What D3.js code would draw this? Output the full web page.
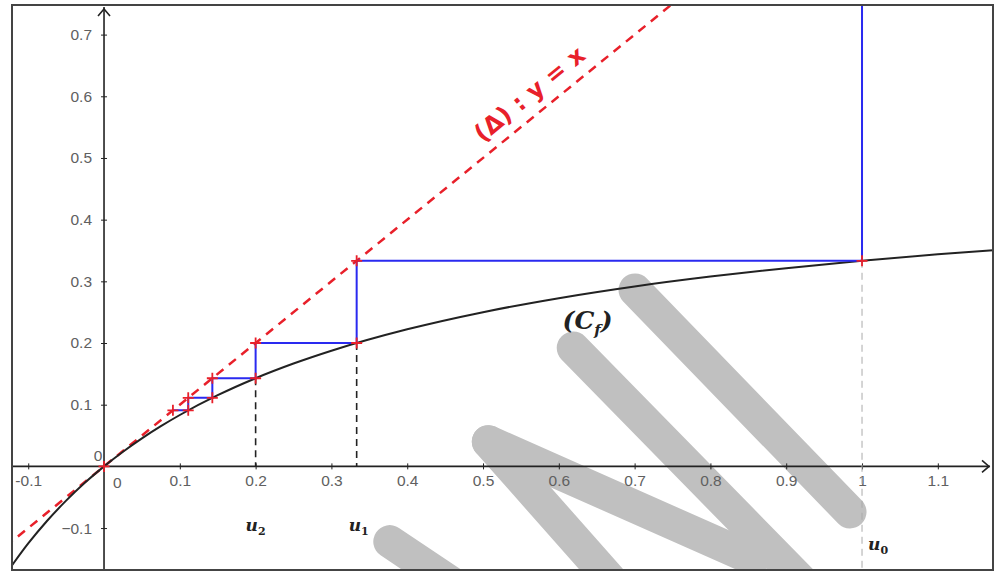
<!DOCTYPE html>
<html><head><meta charset="utf-8">
<script src="https://cdn.jsdelivr.net/npm/d3@7"></script>
<style>
html,body{margin:0;padding:0;background:#fff;}
svg{display:block;}
</style></head>
<body>
<svg id="chart" width="1000" height="572"></svg>
<script>
// ---- data ----
const xTicks = [-0.1, 0.1, 0.2, 0.3, 0.4, 0.5, 0.6, 0.7, 0.8, 0.9, 1, 1.1];
const yTicks = [-0.1, 0.1, 0.2, 0.3, 0.4, 0.5, 0.6, 0.7];
// sequence u_n
const seq = [1, 0.3333, 0.2, 0.1429, 0.1111, 0.0909];
// curve (C_f) points
const curveX = [-0.125, -0.1, -0.075, -0.05, -0.025, 0, 0.025, 0.05, 0.075, 0.1, 0.15, 0.2, 0.25, 0.3, 0.4, 0.5, 0.6, 0.7, 0.8, 0.9, 1.0, 1.1, 1.2];
const curveY = [-0.1667, -0.125, -0.0882, -0.0556, -0.0263, 0, 0.0238, 0.0455, 0.0652, 0.0833, 0.1154, 0.1429, 0.1667, 0.1875, 0.2222, 0.25, 0.2727, 0.2917, 0.3077, 0.3214, 0.3333, 0.3438, 0.3529];
const seqLabels = ["u0", "u1", "u2"];
// watermark strokes (data units)
const wmStrokes = [
  [[0.7005, 0.286], [0.9842, -0.074]],
  [[0.619, 0.192], [0.925, -0.192]],
  [[0.507, 0.040], [0.856, -0.150]],
  [[0.507, 0.040], [0.674, -0.192]],
  [[0.377, -0.122], [0.462, -0.192]]
];

// ---- layout ----
const svg = d3.select("#chart");
const L = 12, R = 993, T = 5, B = 570;
const x = d3.scaleLinear().domain([-0.1214, 1.1728]).range([L, R]);
const y = d3.scaleLinear().domain([0.748, -0.168]).range([T, B]);

const red = "#e8202a", blue = "#2a2af0", grey = "#606060";
const tickFont = "'Liberation Sans', Arial, sans-serif";
const tickSize = "15.5px";

svg.append("defs").append("clipPath").attr("id", "clip")
  .append("rect").attr("x", L).attr("y", T).attr("width", R - L).attr("height", B - T);

const g = svg.append("g").attr("clip-path", "url(#clip)");

// watermark
g.append("g").selectAll("line").data(wmStrokes).join("line")
  .attr("x1", d => x(d[0][0])).attr("y1", d => y(d[0][1]))
  .attr("x2", d => x(d[1][0])).attr("y2", d => y(d[1][1]))
  .attr("stroke", "#c0c0c0").attr("stroke-width", 33).attr("stroke-linecap", "round");

// axes
const xAxis = d3.axisBottom(x).tickValues(xTicks).tickSize(3)
  .tickFormat(d => String(d));
const gx = g.append("g").attr("transform", `translate(0,${y(0)})`).call(xAxis);
gx.select(".domain").remove();
gx.selectAll(".tick line").attr("stroke", "#222").attr("y1", -3).attr("y2", 3);
gx.selectAll(".tick text").attr("y", 9).attr("fill", grey)
  .style("font-family", tickFont).style("font-size", tickSize);

const yAxis = d3.axisLeft(y).tickValues(yTicks).tickSize(3)
  .tickFormat(d => d < 0 ? "\u2212" + String(-d) : String(d));
const gy = g.append("g").attr("transform", `translate(${x(0)},0)`).call(yAxis);
gy.select(".domain").remove();
gy.selectAll(".tick line").attr("stroke", "#222").attr("x1", -3).attr("x2", 3);
gy.selectAll(".tick text").attr("x", -12).attr("fill", grey)
  .style("font-family", tickFont).style("font-size", tickSize);

// axis lines with arrows
g.append("line").attr("x1", L).attr("x2", R - 3).attr("y1", y(0)).attr("y2", y(0))
  .attr("stroke", "#222").attr("stroke-width", 1.6);
g.append("path").attr("d", `M${R - 11},${y(0) - 6} L${R - 4},${y(0)} L${R - 11},${y(0) + 6}`)
  .attr("fill", "none").attr("stroke", "#222").attr("stroke-width", 1.6);
g.append("line").attr("x1", x(0)).attr("x2", x(0)).attr("y1", B).attr("y2", T + 2)
  .attr("stroke", "#222").attr("stroke-width", 1.6);
g.append("path").attr("d", `M${x(0) - 6},${T + 11} L${x(0)},${T + 4} L${x(0) + 6},${T + 11}`)
  .attr("fill", "none").attr("stroke", "#222").attr("stroke-width", 1.6);

// zero labels
const lblStyle = s => s.attr("fill", grey).style("font-family", tickFont).style("font-size", tickSize);
g.append("text").attr("x", x(0) + 9).attr("y", y(0) + 22).text("0").call(lblStyle);
g.append("text").attr("x", x(0) - 6).attr("y", y(0) - 5).attr("text-anchor", "middle").text("0").call(lblStyle);

// dashed verticals
g.append("line").attr("x1", x(seq[0])).attr("x2", x(seq[0])).attr("y1", y(seq[1])).attr("y2", B)
  .attr("stroke", "#aaa").attr("stroke-width", 1).attr("stroke-dasharray", "7,5");
[1, 2].forEach(i => {
  g.append("line").attr("x1", x(seq[i])).attr("x2", x(seq[i]))
    .attr("y1", y(seq[i + 1])).attr("y2", y(0))
    .attr("stroke", "#222").attr("stroke-width", 1.6).attr("stroke-dasharray", "7,5");
});

// line y = x
g.append("line").attr("x1", x(-0.13)).attr("y1", y(-0.13)).attr("x2", x(0.76)).attr("y2", y(0.76))
  .attr("stroke", red).attr("stroke-width", 2.5).attr("stroke-dasharray", "9,7");

// curve
const pts = curveX.map((v, i) => [v, curveY[i]]);
g.append("path").datum(pts)
  .attr("d", d3.line().x(d => x(d[0])).y(d => y(d[1])).curve(d3.curveMonotoneX))
  .attr("fill", "none").attr("stroke", "#222").attr("stroke-width", 2);

// cobweb
const web = [[seq[0], 0.76]];
for (let i = 0; i < seq.length - 1; i++) {
  web.push([seq[i], seq[i + 1]]);
  web.push([seq[i + 1], seq[i + 1]]);
}
g.append("path").datum(web)
  .attr("d", d3.line().x(d => x(d[0])).y(d => y(d[1])))
  .attr("fill", "none").attr("stroke", blue).attr("stroke-width", 2);

// red cross markers
const marks = [[0, 0]];
for (let i = 0; i < seq.length - 1; i++) {
  marks.push([seq[i], seq[i + 1]]);
  marks.push([seq[i + 1], seq[i + 1]]);
}
g.append("g").selectAll("path").data(marks).join("path")
  .attr("d", d => `M${x(d[0]) - 5.5},${y(d[1])} L${x(d[0]) + 5.5},${y(d[1])} M${x(d[0])},${y(d[1]) - 5.5} L${x(d[0])},${y(d[1]) + 5.5}`)
  .attr("stroke", red).attr("stroke-width", 1.8);

// labels
const serif = "'DejaVu Serif', 'Liberation Serif', serif";
const uPos = [[seq[0], -0.135, 6], [seq[1], -0.105, -8], [seq[2], -0.105, -10]];
uPos.forEach((p, i) => {
  const t = g.append("text").attr("x", x(p[0]) + p[2]).attr("y", y(p[1]))
    .attr("fill", "#222").style("font-family", serif).style("font-style", "italic")
    .style("font-weight", "bold").style("font-size", "17px");
  t.append("tspan").text("u");
  t.append("tspan").attr("dy", 4).style("font-size", "11px").style("font-style", "normal").text(String(i));
});

const cf = g.append("text").attr("x", x(0.638)).attr("y", y(0.222))
  .attr("text-anchor", "middle").attr("fill", "#222")
  .style("font-family", serif).style("font-style", "italic").style("font-weight", "bold").style("font-size", "25px");
cf.append("tspan").text("(C");
cf.append("tspan").attr("dy", 6).style("font-size", "15px").text("f");
cf.append("tspan").attr("dy", -6).text(")");

const ang = -Math.atan((y(0) - y(1)) / (x(1) - x(0))) * 180 / Math.PI;
g.append("text")
  .attr("transform", `translate(${x(0.578) - 7.5},${y(0.578) - 9.5}) rotate(${ang})`)
  .attr("text-anchor", "middle").attr("fill", red)
  .style("font-family", "'DejaVu Sans', 'Liberation Sans', sans-serif").style("font-weight", "bold").style("font-size", "24px")
  .text("(\u0394) : y = x");

// frame
svg.append("rect").attr("x", L).attr("y", T).attr("width", R - L).attr("height", B - T)
  .attr("fill", "none").attr("stroke", "#444").attr("stroke-width", 2);
</script>
</body></html>
